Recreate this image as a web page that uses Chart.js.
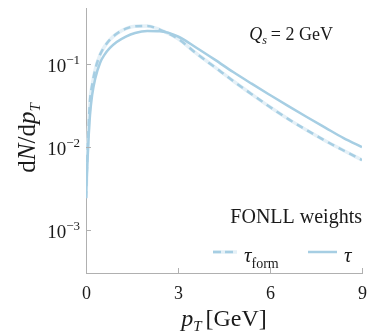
<!DOCTYPE html>
<html>
<head>
<meta charset="utf-8">
<script src="https://cdn.jsdelivr.net/npm/chart.js@4"></script>
<style>
  html, body { margin: 0; padding: 0; background: #fff; }
  #wrap { width: 367px; height: 333px; }
</style>
</head>
<body>
<div id="wrap"><canvas id="myChart" width="367" height="333"></canvas></div>
<script>
// datos
const pT = [0, 0.04, 0.08, 0.13, 0.2, 0.3, 0.46, 0.6, 0.78, 1.0, 1.3, 1.6, 2.0, 2.4, 3.0, 3.6, 4.2, 4.8, 5.4, 6.0, 6.6, 7.2, 7.8, 8.4, 9.0]
const tau = [0.0024, 0.006, 0.012, 0.024, 0.042, 0.066, 0.103, 0.128, 0.155, 0.183, 0.213, 0.235, 0.248, 0.246, 0.213, 0.156, 0.112, 0.0794, 0.0575, 0.042, 0.0308, 0.0228, 0.017, 0.0127, 0.0099]
const tauForm = [0.0024, 0.007, 0.016, 0.036, 0.055, 0.085, 0.129, 0.16, 0.195, 0.23, 0.265, 0.283, 0.286, 0.258, 0.200, 0.133, 0.091, 0.062, 0.043, 0.0301, 0.0215, 0.0158, 0.0118, 0.009, 0.0069]
const xTicks = [0, 3, 6, 9]
const yTicks = [-1, -2, -3]

const azul = '#a6cee3'
const azulPalido = '#e4f0f7'
const gris = '#b0b0b0'
const texto = '#1a1a1a'
const serif = '"Liberation Serif", "DejaVu Serif", serif'

function puntos(ys) {
    return pT.map((x, i) => ({ x: x, y: ys[i] }))
}

// dibuja texto con partes (italica, subindice, superindice)
function textoRico(ctx, partes, x, y, align) {
    let ancho = 0
    for (const p of partes) {
        ctx.font = p.font
        ancho += ctx.measureText(p.t).width + (p.gap || 0)
    }
    let cx = x
    if (align === 'right') cx = x - ancho
    if (align === 'center') cx = x - ancho / 2
    ctx.textBaseline = 'alphabetic'
    ctx.textAlign = 'left'
    for (const p of partes) {
        ctx.font = p.font
        ctx.fillText(p.t, cx, y + (p.dy || 0))
        cx += ctx.measureText(p.t).width + (p.gap || 0)
    }
}

const textos = {
    id: 'textos',
    afterDraw(chart) {
        const ctx = chart.ctx
        const xs = chart.scales.x
        const ys = chart.scales.y
        const area = chart.chartArea
        ctx.save()
        ctx.fillStyle = texto
        ctx.strokeStyle = gris
        ctx.lineWidth = 1

        // marcas hacia adentro
        for (const t of xTicks) {
            const px = Math.round(xs.getPixelForValue(t)) + 0.5
            ctx.beginPath()
            ctx.moveTo(px, area.bottom)
            ctx.lineTo(px, area.bottom - 5)
            ctx.stroke()
            textoRico(ctx, [{ t: String(t), font: '18px ' + serif }], px, area.bottom + 26, 'center')
        }
        for (const e of yTicks) {
            const py = Math.round(ys.getPixelForValue(Math.pow(10, e))) + 0.5
            ctx.beginPath()
            ctx.moveTo(area.left, py)
            ctx.lineTo(area.left + 5, py)
            ctx.stroke()
            textoRico(ctx, [
                { t: '10', font: '19px ' + serif },
                { t: '\u2212' + Math.abs(e), font: '13px ' + serif, dy: -8 }
            ], area.left - 6, py + 7, 'right')
        }

        // titulo eje x
        textoRico(ctx, [
            { t: 'p', font: 'italic 24px ' + serif },
            { t: 'T', font: 'italic 15px ' + serif, dy: 5, gap: 4 },
            { t: '[GeV]', font: '24px ' + serif }
        ], (area.left + area.right) / 2, 326, 'center')

        // titulo eje y
        ctx.save()
        ctx.translate(35, 138)
        ctx.rotate(-Math.PI / 2)
        textoRico(ctx, [
            { t: 'd', font: '25px ' + serif },
            { t: 'N', font: 'italic 25px ' + serif },
            { t: '/d', font: '25px ' + serif },
            { t: 'p', font: 'italic 25px ' + serif },
            { t: 'T', font: 'italic 15px ' + serif, dy: 5 }
        ], 0, 0, 'center')
        ctx.restore()

        // anotacion
        textoRico(ctx, [
            { t: 'Q', font: 'italic 18px ' + serif },
            { t: 's', font: 'italic 12px ' + serif, dy: 4, gap: 4 },
            { t: '= 2 GeV', font: '18px ' + serif }
        ], 333, 40, 'right')

        // leyenda
        textoRico(ctx, [{ t: 'FONLL weights', font: '20px ' + serif }], 362, 223, 'right')

        ctx.strokeStyle = azulPalido
        ctx.lineWidth = 3.5
        ctx.beginPath(); ctx.moveTo(213, 252); ctx.lineTo(237, 252); ctx.stroke()
        ctx.lineWidth = 2.5
        ctx.strokeStyle = azul
        ctx.setLineDash([8, 4])
        ctx.beginPath(); ctx.moveTo(213, 252); ctx.lineTo(237, 252); ctx.stroke()
        ctx.setLineDash([])
        ctx.beginPath(); ctx.moveTo(308, 252); ctx.lineTo(337, 252); ctx.stroke()

        textoRico(ctx, [
            { t: '\u03c4', font: 'italic 21px ' + serif },
            { t: 'form', font: '14px ' + serif, dy: 6 }
        ], 244, 262, 'left')
        textoRico(ctx, [{ t: '\u03c4', font: 'italic 21px ' + serif }], 344, 262, 'left')

        ctx.restore()
    }
}

const data = {
    datasets: [
        {
            label: 'fondo',
            data: puntos(tauForm),
            borderColor: azulPalido,
            borderWidth: 3.5,
            pointRadius: 0,
            order: 3,
            cubicInterpolationMode: 'monotone'
        },
        {
            label: 'tau_form',
            data: puntos(tauForm),
            borderColor: azul,
            borderWidth: 2.5,
            borderDash: [7, 5],
            pointRadius: 0,
            order: 1,
            cubicInterpolationMode: 'monotone'
        },
        {
            label: 'tau',
            data: puntos(tau),
            borderColor: azul,
            borderWidth: 2.5,
            pointRadius: 0,
            order: 0,
            cubicInterpolationMode: 'monotone'
        }
    ]
}

const config = {
    type: 'line',
    data: data,
    options: {
        responsive: false,
        animation: false,
        layout: { padding: { left: 86, right: 5, top: 8, bottom: 60 } },
        plugins: { legend: { display: false }, tooltip: { enabled: false } },
        scales: {
            x: {
                type: 'linear', min: 0, max: 9,
                grid: { display: false },
                border: { color: gris, width: 1 },
                ticks: { display: false },
                afterFit(scale) { scale.height = 0 }
            },
            y: {
                type: 'logarithmic', min: 3.3e-4, max: 0.47,
                grid: { display: false },
                border: { color: gris, width: 1 },
                ticks: { display: false },
                afterFit(scale) { scale.width = 0 }
            }
        }
    },
    plugins: [textos]
}

const myChart = new Chart(document.getElementById('myChart'), config)
</script>
</body>
</html>
